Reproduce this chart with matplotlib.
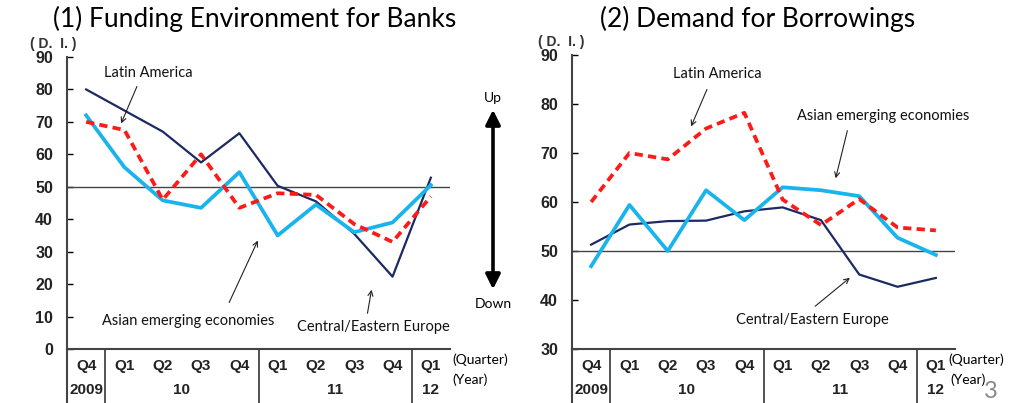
import matplotlib
matplotlib.use("Agg")
import matplotlib.pyplot as plt
import matplotlib.transforms as mtransforms

# === Data ===
quarters = ["Q4", "Q1", "Q2", "Q3", "Q4", "Q1", "Q2", "Q3", "Q4", "Q1"]
years = ["2009", "10", "11", "12"]
year_pos = [0, 2.5, 6.5, 9]          # centre of each year group (category index)
year_breaks = [0.5, 4.5, 8.5]

# (1) Funding environment for banks
fund_latin = [70, 67.5, 46, 60, 43.5, 48, 47.5, 38.5, 33, 47]
fund_asia = [72, 56, 45.8, 43.5, 54.5, 35, 44.5, 36, 39, 50.5]
fund_cee = [80, 73.5, 67, 57.5, 66.5, 50.3, 45.5, 35.5, 22.3, 52.8]

# (2) Demand for borrowings
dem_latin = [60, 70, 68.7, 75, 78.2, 60.5, 55.3, 60.6, 54.8, 54.2]
dem_asia = [46.9, 59.4, 50, 62.4, 56.3, 63, 62.4, 61.2, 52.7, 49.2]
dem_cee = [51.3, 55.4, 56.1, 56.2, 58.1, 58.9, 56.3, 45.2, 42.7, 44.5]

NAVY = "#1c2a64"
CYAN = "#19b4ec"
RED = "#ff1a1a"
TICK_FONT = ["Liberation Sans Narrow", "Liberation Sans", "DejaVu Sans"]
LABEL_FONT = ["Lato", "DejaVu Sans"]

fig = plt.figure(figsize=(10.09, 4.03), dpi=100)
ax1 = fig.add_axes([67 / 1009, 1 - 349 / 403, 383 / 1009, 292 / 403])
ax2 = fig.add_axes([572 / 1009, 1 - 349 / 403, 383 / 1009, 294 / 403])


def draw_panel(ax, latin, asia, cee, ylim, title, title_x):
    x = list(range(len(quarters)))
    ax.plot(x, cee, color=NAVY, lw=1.6, zorder=3)
    ax.plot(x, asia, color=CYAN, lw=2.7, zorder=4)
    ax.plot(x, latin, color=RED, lw=2.7, ls=(0, (2.2, 1.4)), zorder=5)
    ax.axhline(50, color="#444444", lw=1.0, zorder=2)

    ax.set_xlim(-0.5, 9.5)
    ax.set_ylim(*ylim)
    ax.set_yticks(range(ylim[0], ylim[1] + 1, 10))
    ax.set_xticks([])
    for lab in ax.get_yticklabels():
        lab.set_family(TICK_FONT)
        lab.set_fontweight("bold")
        lab.set_fontsize(11.5)
        lab.set_color("#222222")
    ax.tick_params(axis="y", direction="in", length=4, width=1, pad=10)
    for s in ["top", "right"]:
        ax.spines[s].set_visible(False)
    for s in ["left", "bottom"]:
        ax.spines[s].set_color("#444444")
        ax.spines[s].set_linewidth(1.5)

    # category table under the axis
    tr = mtransforms.blended_transform_factory(ax.transData, fig.transFigure)
    ax.plot([-0.5, -0.5], [0, 1 - 349 / 403], color="#444444", lw=1.5,
            transform=tr, clip_on=False)
    for b in year_breaks:
        ax.plot([b, b], [0, 1 - 349 / 403], color="#444444", lw=1.3,
                transform=tr, clip_on=False)
    for i, q in enumerate(quarters):
        ax.text(i, 1 - 366 / 403, q, transform=tr, ha="center", va="center",
                fontsize=11, fontweight="bold", family=TICK_FONT, color="#222222")
    for p, yname in zip(year_pos, years):
        ax.text(p, 1 - 390 / 403, yname, transform=tr, ha="center", va="center",
                fontsize=11, fontweight="bold", family=TICK_FONT, color="#222222")

    fig.text(title_x, 1 - 19 / 403, title, ha="center", va="center",
             fontsize=19, family=LABEL_FONT, color="black")


draw_panel(ax1, fund_latin, fund_asia, fund_cee, (0, 90),
           "(1) Funding Environment for Banks", 255 / 1009)
draw_panel(ax2, dem_latin, dem_asia, dem_cee, (30, 90),
           "(2) Demand for Borrowings", 758 / 1009)

# (D.I.) unit labels
fig.text(53 / 1009, 1 - 44 / 403, "( D.  I. )", ha="center", va="center",
         fontsize=10, fontweight="bold", family=TICK_FONT, color="#333333")
fig.text(561 / 1009, 1 - 42 / 403, "( D.  I. )", ha="center", va="center",
         fontsize=10, fontweight="bold", family=TICK_FONT, color="#333333")

# (Quarter) / (Year) labels
for xq, xy in [(452, 452), (948, 950)]:
    fig.text(xq / 1009, 1 - 360 / 403, "(Quarter)", ha="left", va="center",
             fontsize=10, family=LABEL_FONT)
    fig.text(xy / 1009, 1 - 380 / 403, "(Year)", ha="left", va="center",
             fontsize=10, family=LABEL_FONT)

fig.text(991 / 1009, 1 - 392 / 403, "3", ha="center", va="center",
         fontsize=17, color="#888888", family=LABEL_FONT)

# Up / Down arrow
fig.patches.append(matplotlib.patches.FancyArrowPatch(
    (493 / 1009, 1 - 292 / 403), (493 / 1009, 1 - 107 / 403),
    transform=fig.transFigure, arrowstyle="<|-|>", mutation_scale=22,
    lw=2.6, color="black"))
fig.text(493 / 1009, 1 - 98 / 403, "Up", ha="center", va="center",
         fontsize=10, family=LABEL_FONT)
fig.text(493 / 1009, 1 - 304 / 403, "Down", ha="center", va="center",
         fontsize=10, family=LABEL_FONT)


# Series annotations (text position, arrow tip) in pixel coords
def pix(x, y):
    return (x / 1009, 1 - y / 403)


annots = [
    ("Latin America", (148, 73), (138, 84), (120, 126)),
    ("Asian emerging economies", (188, 321), (228, 305), (259, 238)),
    ("Central/Eastern Europe", (373, 327), (367, 316), (372, 287)),
    ("Latin America", (717, 74), (708, 87), (690, 129)),
    ("Asian emerging economies", (883, 116), (848, 128), (835, 181)),
    ("Central/Eastern Europe", (812, 320), (813, 308), (852, 276)),
]
for label, tpos, start, tip in annots:
    fig.text(*pix(*tpos), label, ha="center", va="center", fontsize=10.5,
             family=LABEL_FONT, color="#111111")
    fig.patches.append(matplotlib.patches.FancyArrowPatch(
        pix(*start), pix(*tip), transform=fig.transFigure,
        arrowstyle="->", mutation_scale=9, lw=0.8, color="#222222"))

fig.savefig("out.png", dpi=100)
